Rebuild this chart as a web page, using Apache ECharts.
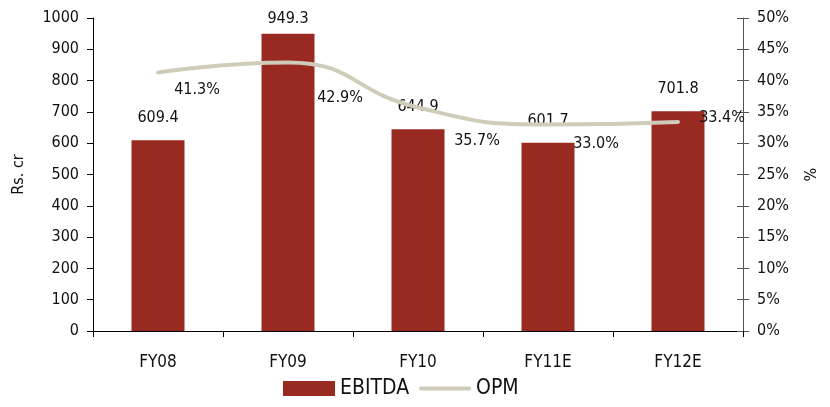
<!DOCTYPE html>
<html>
<head>
<meta charset="UTF-8">
<title>EBITDA and OPM</title>
<script src="https://cdn.jsdelivr.net/npm/echarts@6/dist/echarts.min.js"></script>
<style>
    body { margin: 0; padding: 0; background: #fff; }
    #chart { width: 830px; height: 407px; }
</style>
</head>
<body>
<div id="chart"></div>
<script>
    var categories = ['FY08', 'FY09', 'FY10', 'FY11E', 'FY12E'];
    var ebitda = [609.4, 949.3, 644.9, 601.7, 701.8];
    var opm = [41.3, 42.9, 35.7, 33.0, 33.4];

    var font = '"DejaVu Sans Condensed", "Roboto", sans-serif';
    var txt = '#111';
    var lineColor = '#D0CCBA';

    // label nudges so the percentages sit where the original put them
    var opmOffsets = [[39, 17], [52, 35], [59, 33], [48, 19], [44, -4]];
    var barOffsets = [[0, 0], [0, 7], [0, 0], [0, 0], [0, 0]];

    // thick line for the legend, padded to the full icon height
    var lineIcon = 'path://M0,0 L0.01,0 L0.01,0.01 Z M0,15 L0.01,15 L0.01,14.99 Z ' +
        'M2,5.5 L50,5.5 A2,2 0 0 1 50,9.5 L2,9.5 A2,2 0 0 1 2,5.5 Z';

    var chart = echarts.init(document.getElementById('chart'));

    var option = {
        animation: false,
        textStyle: { fontFamily: font },
        grid: { left: 93, right: 87, top: 18, bottom: 76 },
        legend: {
            bottom: 3,
            left: 278,
            itemGap: 10,
            itemWidth: 52,
            itemHeight: 15,
            textStyle: { fontSize: 21, color: txt, fontFamily: font },
            data: [
                { name: 'EBITDA', icon: 'rect' },
                { name: 'OPM', icon: lineIcon, itemStyle: { color: lineColor } }
            ]
        },
        xAxis: {
            type: 'category',
            data: categories,
            axisLine: { lineStyle: { color: '#000', width: 1 } },
            axisTick: { show: true, length: 6, lineStyle: { color: '#000' } },
            axisLabel: { color: txt, fontSize: 17, margin: 23, fontFamily: font }
        },
        yAxis: [
            {
                type: 'value',
                min: 0, max: 1000, interval: 100,
                name: 'Rs. cr',
                nameLocation: 'middle',
                nameGap: 66,
                nameTextStyle: { fontSize: 16, color: txt, fontFamily: font },
                splitLine: { show: false },
                axisLine: { show: true, lineStyle: { color: '#000' } },
                axisTick: { show: true, length: 6, lineStyle: { color: '#000' } },
                axisLabel: { color: txt, fontSize: 16, margin: 14, fontFamily: font,
                    formatter: function (v) { return String(v); } }
            },
            {
                type: 'value',
                position: 'right',
                min: 0, max: 50, interval: 5,
                name: '%',
                nameLocation: 'middle',
                nameGap: 56,
                nameRotate: -90,
                nameTextStyle: { fontSize: 16, color: txt, fontFamily: font },
                splitLine: { show: false },
                axisLine: { show: true, lineStyle: { color: '#555' } },
                axisTick: { show: true, length: 6, lineStyle: { color: '#555' } },
                axisLabel: { color: txt, fontSize: 16, margin: 14, fontFamily: font, formatter: '{value}%' }
            },
            {
                type: 'value',
                position: 'right',
                min: 0, max: 50, interval: 5,
                splitLine: { show: false },
                axisLine: { show: false },
                axisTick: { show: true, inside: true, length: 6, lineStyle: { color: '#555' } },
                axisLabel: { show: false }
            }
        ],
        series: [
            {
                name: 'EBITDA',
                type: 'bar',
                barWidth: 53,
                yAxisIndex: 0,
                itemStyle: { color: '#982A22' },
                data: ebitda.map(function (v, i) {
                    return { value: v, label: { offset: barOffsets[i] } };
                }),
                label: {
                    show: true,
                    position: 'top',
                    distance: 14,
                    color: txt,
                    fontSize: 16,
                    fontFamily: font,
                    formatter: function (p) { return p.value.toFixed(1); }
                }
            },
            {
                name: 'OPM',
                type: 'line',
                yAxisIndex: 1,
                smooth: 0.5,
                symbol: 'none',
                lineStyle: { color: lineColor, width: 4, cap: 'round' },
                itemStyle: { color: lineColor },
                data: opm
            },
            {
                // invisible carrier for the OPM value labels
                name: 'OPM labels',
                type: 'scatter',
                yAxisIndex: 1,
                symbol: 'circle',
                symbolSize: 1,
                silent: true,
                z: 5,
                itemStyle: { color: 'rgba(0,0,0,0)', opacity: 1 },
                data: opm.map(function (v, i) {
                    return { value: v, label: { offset: opmOffsets[i] } };
                }),
                label: {
                    show: true,
                    position: 'inside',
                    color: txt,
                    fontSize: 16,
                    fontFamily: font,
                    formatter: function (p) { return p.value.toFixed(1) + '%'; }
                }
            }
        ]
    };

    chart.setOption(option);
</script>
</body>
</html>
